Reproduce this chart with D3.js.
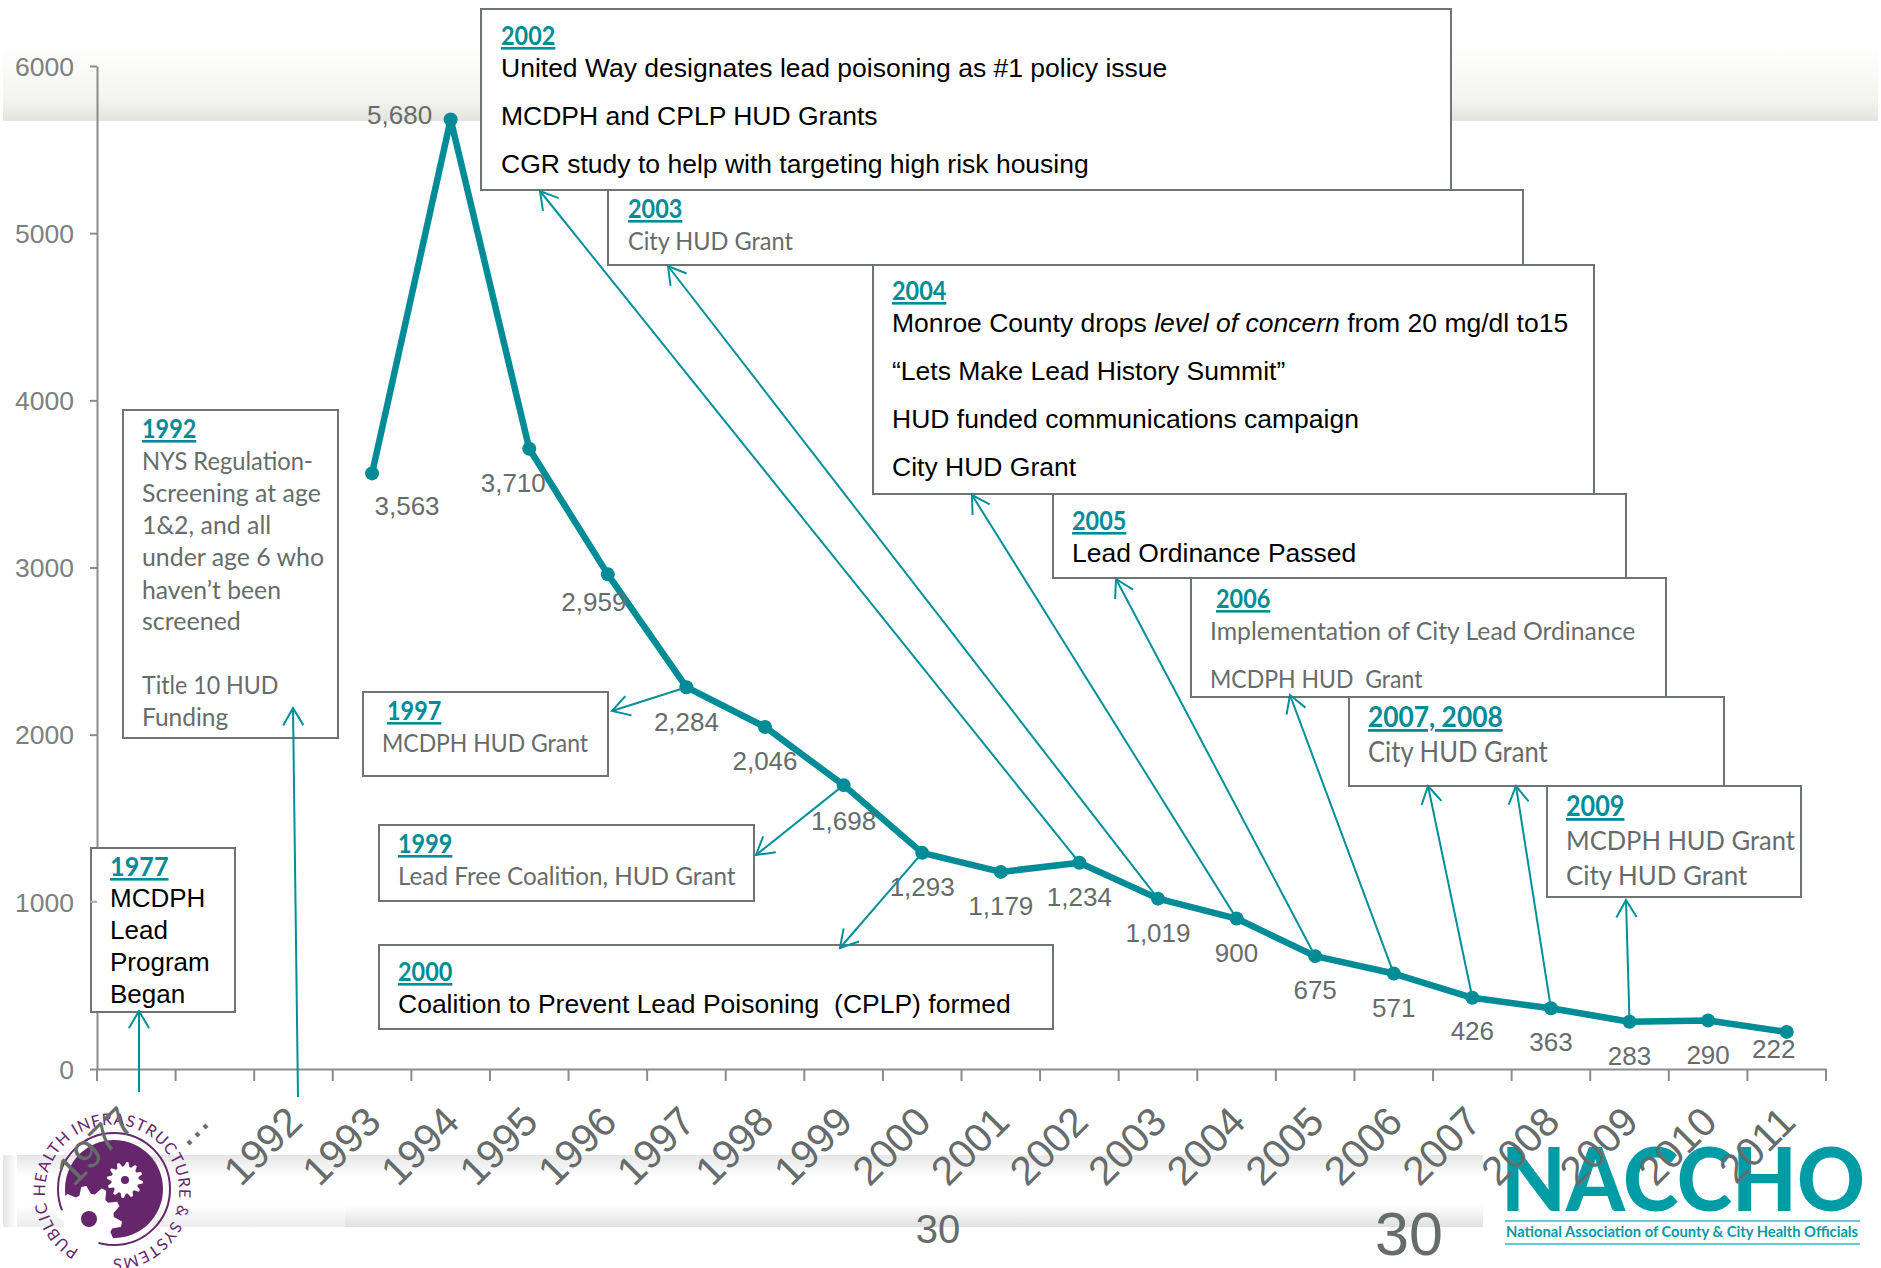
<!DOCTYPE html>
<html>
<head>
<meta charset="utf-8">
<script src="https://cdn.jsdelivr.net/npm/d3@7"></script>
<style>
  html, body { margin: 0; padding: 0; background: #fff; }
  svg { display: block; }
</style>
</head>
<body>
<div id="chart"></div>
<script>
// Data
var categories = ["1977", "...", "1992", "1993", "1994", "1995", "1996", "1997", "1998", "1999", "2000",
                  "2001", "2002", "2003", "2004", "2005", "2006", "2007", "2008", "2009", "2010", "2011"];
var years = ["1993", "1994", "1995", "1996", "1997", "1998", "1999", "2000", "2001", "2002", "2003",
             "2004", "2005", "2006", "2007", "2008", "2009", "2010", "2011"];
var cases = [3563, 5680, 3710, 2959, 2284, 2046, 1698, 1293, 1179, 1234, 1019,
             900, 675, 571, 426, 363, 283, 290, 222];
var yTicks = [0, 1000, 2000, 3000, 4000, 5000, 6000];

var noteTitles = ["1977", "1992", "1997", "1999", "2000", "2003", "2002", "2004", "2005", "2006", "2007, 2008", "2009"];
var noteLines = [
  ["MCDPH", "Lead", "Program", "Began"],
  ["NYS Regulation-", "Screening at age", "1&2, and all", "under age 6 who", "haven\u2019t been", "screened", "", "Title 10 HUD", "Funding"],
  ["MCDPH HUD Grant"],
  ["Lead Free Coalition, HUD Grant"],
  ["Coalition to Prevent Lead Poisoning  (CPLP) formed"],
  ["City HUD Grant"],
  ["United Way designates lead poisoning as #1 policy issue", "MCDPH and CPLP HUD Grants", "CGR study to help with targeting high risk housing"],
  ["Monroe County drops |level of concern| from 20 mg/dl to15", "\u201cLets Make Lead History Summit\u201d", "HUD funded communications campaign", "City HUD Grant"],
  ["Lead Ordinance Passed"],
  ["Implementation of City Lead Ordinance", "MCDPH HUD  Grant"],
  ["City HUD Grant"],
  ["MCDPH HUD Grant", "City HUD Grant"]
];

// Layout of the page, in pixels
var width = 1881, height = 1268;
var axisLeft = 97, axisRight = 1826, axisTop = 66, axisBottom = 1069;
var teal = "#008c96", gray = "#666c6b", sans = "'Liberation Sans', Arial, sans-serif", lato = "Lato, sans-serif";

// label offset from its point: [dx, dy]
var labelOffsets = [[35, 33], [-51, -4], [-16, 34], [-14, 28], [0, 35], [0, 34], [0, 36], [0, 34], [0, 34], [0, 34], [0, 34],
                    [0, 34], [0, 34], [0, 34], [0, 33], [0, 34], [0, 34], [0, 34], [-13, 17]];

// one per note: box x0,y0,x1,y1, title x + baseline, body x, body baselines, font size, colour
// fit squeezes the Lato lines to the narrower widths of the picture
var noteBoxes = [
  {box: [91, 848, 235, 1012], tx: 110, ty: 876, tfit: 0.97, bx: 110, by: [907, 939, 971, 1003], size: 26, color: "#000", font: sans},
  {box: [123, 410, 338, 738], tx: 142, ty: 438, tfit: 0.9, bx: 142, by: [470, 502, 534, 566, 599, 630, 662, 694, 726], size: 25.5, color: gray, font: lato,
    fit: [0.93, 0.975, 0.975, 0.975, 0.97, 0.98, 1, 0.91, 0.96]},
  {box: [363, 692, 608, 776], tx: 387, ty: 720, tfit: 0.9, bx: 382, by: [752], size: 25.5, color: gray, font: lato, fit: [0.9]},
  {box: [379, 825, 754, 901], tx: 398, ty: 853, tfit: 0.9, bx: 398, by: [885], size: 25, color: gray, font: lato, fit: [0.97]},
  {box: [379, 945, 1053, 1029], tx: 398, ty: 981, tfit: 0.9, bx: 398, by: [1013], size: 26.5, color: "#000", font: sans},
  {box: [608, 190, 1523, 265], tx: 628, ty: 218, tfit: 0.9, bx: 628, by: [250], size: 25, color: gray, font: lato, fit: [0.94]},
  {box: [481, 9, 1451, 190], tx: 501, ty: 45, tfit: 0.9, bx: 501, by: [77, 125, 173], size: 26.5, color: "#000", font: sans},
  {box: [873, 265, 1594, 494], tx: 892, ty: 300, tfit: 0.9, bx: 892, by: [332, 380, 428, 476], size: 26.5, color: "#000", font: sans},
  {box: [1053, 494, 1626, 578], tx: 1072, ty: 530, tfit: 0.9, bx: 1072, by: [562], size: 26.5, color: "#000", font: sans},
  {box: [1191, 578, 1666, 697], tx: 1216, ty: 608, tfit: 0.9, bx: 1210, by: [640, 688], size: 25, color: gray, font: lato, fit: [0.99, 0.92]},
  {box: [1349, 697, 1724, 786], tx: 1368, ty: 727, tfit: 0.94, bx: 1368, by: [762], size: 28, color: gray, font: lato, fit: [0.915]},
  {box: [1547, 786, 1801, 897], tx: 1566, ty: 816, tfit: 0.9, bx: 1566, by: [850, 885], size: 27.5, color: gray, font: lato, fit: [0.927, 0.94]}
];

// arrows: from a data year (or a fixed foot) to the tip at a box edge
var arrowLinks = [
  {foot: [139, 1092], tip: [139, 1011]},
  {foot: [298, 1097], tip: [293, 708]},
  {year: "1997", tip: [612, 711]},
  {year: "1999", tip: [756, 855]},
  {year: "2000", tip: [840, 948]},
  {year: "2002", tip: [540, 191]},
  {year: "2003", tip: [668, 266]},
  {year: "2004", tip: [972, 495]},
  {year: "2005", tip: [1116, 579]},
  {year: "2006", tip: [1290, 695]},
  {year: "2007", tip: [1428, 786]},
  {year: "2008", tip: [1516, 786]},
  {year: "2009", tip: [1626, 900]}
];

var svg = d3.select("#chart").append("svg")
  .attr("width", width)
  .attr("height", height);

// Gradients for the slide background
var defs = svg.append("defs");
function gradient(id, x2, y2, stops) {
  var g = defs.append("linearGradient").attr("id", id)
    .attr("x1", 0).attr("y1", 0).attr("x2", x2).attr("y2", y2);
  stops.forEach(function(s) {
    g.append("stop").attr("offset", s[0]).attr("stop-color", s[1]);
  });
}
gradient("topBand", 0, 1, [[0, "#ffffff"], [0.7, "#f4f4f0"], [1, "#e4e4df"]]);
gradient("bandTop", 0, 1, [[0, "#e6e6e6"], [1, "#ffffff"]]);
gradient("bandBottom", 0, 1, [[0, "#ffffff"], [1, "#e0e0e0"]]);
gradient("bandBottomLight", 0, 1, [[0, "#ffffff"], [1, "#ececec"]]);
gradient("bandLeft", 1, 0, [[0, "#e4e4e4"], [1, "#ffffff"]]);

svg.append("rect").attr("x", 3).attr("y", 45).attr("width", 1875).attr("height", 76).attr("fill", "url(#topBand)");
svg.append("rect").attr("x", 3).attr("y", 1155).attr("width", 1480).attr("height", 22).attr("fill", "url(#bandTop)");
svg.append("rect").attr("x", 3).attr("y", 1205).attr("width", 342).attr("height", 22).attr("fill", "url(#bandBottomLight)");
svg.append("rect").attr("x", 345).attr("y", 1205).attr("width", 1138).attr("height", 22).attr("fill", "url(#bandBottom)");
svg.append("rect").attr("x", 3).attr("y", 1155).attr("width", 14).attr("height", 72).attr("fill", "url(#bandLeft)");

// Logo on the left: ring, two gears and text round it
function gearPath(cx, cy, r, teeth) {
  var pts = [];
  for (var i = 0; i < teeth * 4; i++) {
    var a = (i + 0.5) / (teeth * 4) * 2 * Math.PI;
    var rr = (i % 4 < 2) ? r : r * 0.76;
    pts.push([cx + rr * Math.cos(a), cy + rr * Math.sin(a)]);
  }
  return d3.line()(pts) + "Z";
}
var logo = svg.append("g");
logo.append("circle").attr("cx", 114).attr("cy", 1189).attr("r", 56).attr("fill", "none").attr("stroke", "#66266b").attr("stroke-width", 2);
logo.append("circle").attr("cx", 114).attr("cy", 1189).attr("r", 49).attr("fill", "#66266b");
logo.append("path").attr("d", gearPath(89, 1219, 33, 10)).attr("fill", "#fff");
logo.append("circle").attr("cx", 89).attr("cy", 1219).attr("r", 8).attr("fill", "#66266b");
logo.append("path").attr("d", gearPath(125, 1180, 18, 12)).attr("fill", "#fff");
logo.append("circle").attr("cx", 125).attr("cy", 1180).attr("r", 4).attr("fill", "#66266b");
defs.append("path").attr("id", "ringPath")
  .attr("d", "M 79 1250 A 67 67 0 1 1 102 1258");
logo.append("text")
  .attr("font-family", lato)
  .attr("font-size", 16)
  .attr("fill", "#66266b")
  .append("textPath")
  .attr("href", "#ringPath")
  .attr("textLength", 385)
  .attr("lengthAdjust", "spacing")
  .text("PUBLIC HEALTH INFRASTRUCTURE & SYSTEMS");

// NACCHO logo on the right
var nacchoColor = "#009ca6";
svg.append("text").attr("x", 1501).attr("y", 1211)
  .attr("font-family", lato).attr("font-weight", 900).attr("font-size", 87)
  .attr("textLength", 364).attr("lengthAdjust", "spacingAndGlyphs")
  .attr("fill", nacchoColor).text("NACCHO");
svg.append("text").attr("x", 1506).attr("y", 1237)
  .attr("font-family", lato).attr("font-weight", 700).attr("font-size", 15)
  .attr("textLength", 352).attr("lengthAdjust", "spacingAndGlyphs")
  .attr("fill", nacchoColor).text("National Association of County & City Health Officials");
[1221, 1244].forEach(function(y) {
  svg.append("line").attr("x1", 1505).attr("x2", 1860).attr("y1", y).attr("y2", y)
    .attr("stroke", "#2bbcc8").attr("stroke-width", 1.5);
});

// Scales and axes
var x = d3.scaleBand().domain(categories).range([axisLeft, axisRight]);
var y = d3.scaleLinear().domain([0, 6000]).range([axisBottom, axisTop]);

var xAxis = svg.append("g")
  .attr("transform", "translate(0," + axisBottom + ")")
  .call(d3.axisBottom(x).tickSize(0));
xAxis.selectAll("text")
  .attr("x", 0).attr("y", 0).attr("dy", 0)
  .attr("transform", function(d) {
    var dx = d === "..." ? -4 : d === "1977" ? 1 : 11;
    return "translate(" + dx + ",55) rotate(-45)";
  })
  .style("text-anchor", "end")
  .style("font-family", sans)
  .style("font-size", "40.5px")
  .style("fill", gray);
xAxis.select(".domain").attr("stroke", "#8c8c8c").attr("stroke-width", 2);

// the ticks sit between the categories
svg.append("g").selectAll("line")
  .data(categories.concat(["end"]))
  .enter()
  .append("line")
    .attr("x1", function(d) { return d === "end" ? axisRight : x(d); })
    .attr("x2", function(d) { return d === "end" ? axisRight : x(d); })
    .attr("y1", axisBottom)
    .attr("y2", axisBottom + 12)
    .attr("stroke", "#8c8c8c")
    .attr("stroke-width", 2);

var yAxis = svg.append("g")
  .attr("transform", "translate(" + axisLeft + ",0)")
  .call(d3.axisLeft(y).tickValues(yTicks).tickSize(7).tickSizeOuter(0).tickPadding(16).tickFormat(d3.format("d")));
yAxis.selectAll("text")
  .attr("dy", "0.35em")
  .style("font-family", sans)
  .style("font-size", "26.5px")
  .style("fill", "#7b8180");
yAxis.selectAll("line").attr("stroke", "#8c8c8c").attr("stroke-width", 2);
yAxis.select(".domain").attr("stroke", "#8c8c8c").attr("stroke-width", 2);

// Line and points
function px(year) { return x(year) + x.bandwidth() / 2; }

svg.append("path")
  .datum(cases)
  .attr("fill", "none")
  .attr("stroke", teal)
  .attr("stroke-width", 6.5)
  .attr("stroke-linejoin", "round")
  .attr("d", d3.line()
    .x(function(d, i) { return px(years[i]); })
    .y(function(d) { return y(d); }));

svg.append("g").selectAll("circle")
  .data(cases)
  .enter()
  .append("circle")
    .attr("cx", function(d, i) { return px(years[i]); })
    .attr("cy", function(d) { return y(d); })
    .attr("r", 7)
    .attr("fill", teal);

svg.append("g").selectAll("text")
  .data(cases)
  .enter()
  .append("text")
    .attr("x", function(d, i) { return px(years[i]) + labelOffsets[i][0]; })
    .attr("y", function(d, i) { return y(d) + labelOffsets[i][1] + 9; })
    .attr("text-anchor", "middle")
    .attr("font-family", sans)
    .attr("font-size", 26)
    .attr("fill", gray)
    .text(function(d) { return d3.format(",")(d); });

// Note boxes
noteBoxes.forEach(function(n, i) {
  var g = svg.append("g");
  g.append("rect")
    .attr("x", n.box[0]).attr("y", n.box[1])
    .attr("width", n.box[2] - n.box[0]).attr("height", n.box[3] - n.box[1])
    .attr("fill", "#fff").attr("stroke", "#6f7372").attr("stroke-width", 2);
  var title = g.append("text")
    .attr("x", n.tx).attr("y", n.ty)
    .attr("font-family", lato).attr("font-weight", 700).attr("font-size", n.size >= 27.5 ? 28 : 26)
    .attr("text-decoration", "underline")
    .attr("fill", teal)
    .text(noteTitles[i]);
  title.attr("textLength", title.node().getComputedTextLength() * n.tfit)
    .attr("lengthAdjust", "spacingAndGlyphs");
  noteLines[i].forEach(function(line, k) {
    if (!line) return;
    var t = g.append("text")
      .attr("x", n.bx).attr("y", n.by[k])
      .attr("font-family", n.font).attr("font-size", n.size)
      .attr("fill", n.color)
      .style("white-space", "pre");
    // |...| marks the italic part of a line
    line.split("|").forEach(function(part, p) {
      t.append("tspan").style("font-style", p % 2 ? "italic" : "normal").text(part);
    });
    if (n.fit) {
      t.attr("textLength", t.node().getComputedTextLength() * n.fit[k])
        .attr("lengthAdjust", "spacingAndGlyphs");
    }
  });
});

// the 1000 tick shows through the 1977 box
svg.append("line")
  .attr("x1", axisLeft - 7).attr("x2", axisLeft)
  .attr("y1", y(1000)).attr("y2", y(1000))
  .attr("stroke", "#a8a8a8").attr("stroke-width", 2);

// Arrows go over the boxes
function arrowHead(foot, tip) {
  var a = Math.atan2(foot[1] - tip[1], foot[0] - tip[0]), len = 20, spread = 0.53;
  var p1 = [tip[0] + len * Math.cos(a - spread), tip[1] + len * Math.sin(a - spread)];
  var p2 = [tip[0] + len * Math.cos(a + spread), tip[1] + len * Math.sin(a + spread)];
  return d3.line()([p1, tip, p2]);
}
var arrows = svg.append("g").attr("fill", "none").attr("stroke", "#00909a").attr("stroke-width", 2);
arrowLinks.forEach(function(a) {
  var foot = a.foot || [px(a.year), y(cases[years.indexOf(a.year)])];
  arrows.append("path").attr("d", d3.line()([foot, a.tip]));
  arrows.append("path").attr("d", arrowHead(foot, a.tip));
});

// Slide numbers
svg.append("text").attr("x", 938).attr("y", 1243).attr("text-anchor", "middle")
  .attr("font-family", sans).attr("font-size", 40).attr("fill", gray).text("30");
svg.append("text").attr("x", 1409).attr("y", 1255).attr("text-anchor", "middle")
  .attr("font-family", sans).attr("font-size", 61).attr("fill", gray).text("30");
</script>
</body>
</html>
